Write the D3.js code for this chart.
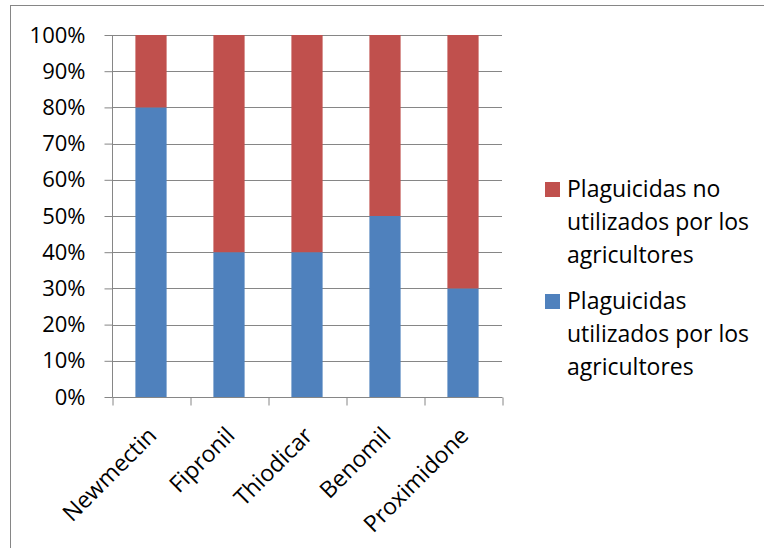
<!DOCTYPE html>
<html><head><meta charset="utf-8">
<script src="https://cdn.jsdelivr.net/npm/d3@7"></script>
<style>body{margin:0;background:#fff}svg{display:block}text{font-family:"Open Sans",sans-serif;fill:#000}</style>
</head><body><svg id="c" width="764" height="548"></svg>
<script>
const categories = ["Newmectin","Fipronil","Thiodicar","Benomil","Proximidone"];
const utilizados = [80,40,40,50,30];
const noUtilizados = [20,60,60,50,70];
const yTicks = [0,10,20,30,40,50,60,70,80,90,100];
const seriesNames = ["Plaguicidas utilizados por los agricultores","Plaguicidas no utilizados por los agricultores"];
const legendLines = [["Plaguicidas no","utilizados por los","agricultores"],["Plaguicidas","utilizados por los","agricultores"]];

const svg = d3.select("#c");
svg.append("rect").attr("x",10.5).attr("y",5.5).attr("width",800).attr("height",600).attr("fill","none").attr("stroke","#868686").attr("stroke-width",1);

const x = d3.scaleBand().domain(categories).range([112,502]).paddingInner(0.6).paddingOuter(0.3);
const y = d3.scaleLinear().domain([0,100]).range([397,35]);

const gridG = svg.append("g");
gridG.selectAll("line").data(yTicks.filter(d=>d>0)).join("line")
 .attr("x1",112).attr("x2",502).attr("y1",d=>Math.round(y(d))+0.5).attr("y2",d=>Math.round(y(d))+0.5)
 .attr("stroke","#868686").attr("stroke-width",1);

const stackData = categories.map((c,i)=>({cat:c,u:utilizados[i],n:noUtilizados[i]}));
const stack = d3.stack().keys(["u","n"])(stackData);
const colors = ["#4f81bd","#c0504d"];
svg.append("g").selectAll("g").data(stack).join("g").attr("fill",(d,i)=>colors[i])
 .selectAll("rect").data(d=>d).join("rect")
 .attr("x",d=>x(d.data.cat)).attr("width",x.bandwidth())
 .attr("y",d=>y(d[1])).attr("height",d=>y(d[0])-y(d[1]));

const yAxis = d3.axisLeft(y).tickValues(yTicks).tickFormat(d=>d+"%").tickSize(8).tickPadding(19);
const ya = svg.append("g").attr("transform","translate(112.5,0)").call(yAxis);
ya.select(".domain").attr("stroke","#868686").attr("d","M0,"+y(100)+"V"+(y(0)+0.5));
ya.selectAll(".tick line").attr("stroke","#868686");
ya.selectAll("text").style("font-size","22px").style("font-family","'Open Sans',sans-serif").attr("fill","#000");

const xAxis = d3.axisBottom(d3.scaleLinear().domain([0,5]).range([112,502])).tickValues([0,1,2,3,4,5]).tickSize(8).tickFormat("");
const xa = svg.append("g").attr("transform","translate(0.5,"+(Math.round(y(0))+0.5)+")").call(xAxis);
xa.select(".domain").attr("stroke","#868686").attr("d","M112,0H502");
xa.selectAll(".tick line").attr("stroke","#868686");

svg.append("g").selectAll("text").data(categories).join("text")
 .attr("transform",d=>`translate(${x(d)+x.bandwidth()/2+7},${Math.round(y(0))+40}) rotate(-45)`)
 .attr("text-anchor","end").style("font-size","23px").text(d=>d);

const leg = svg.append("g");
const legColors = ["#c0504d","#4f81bd"];
legendLines.forEach((lines,i)=>{
  const top = 182 + i*112;
  leg.append("rect").attr("x",545).attr("y",top).attr("width",15).attr("height",15).attr("fill",legColors[i]);
  lines.forEach((t,j)=>{
    leg.append("text").attr("x",567).attr("y",top+15+j*33).style("font-size","23px").text(t);
  });
});
</script></body></html>
